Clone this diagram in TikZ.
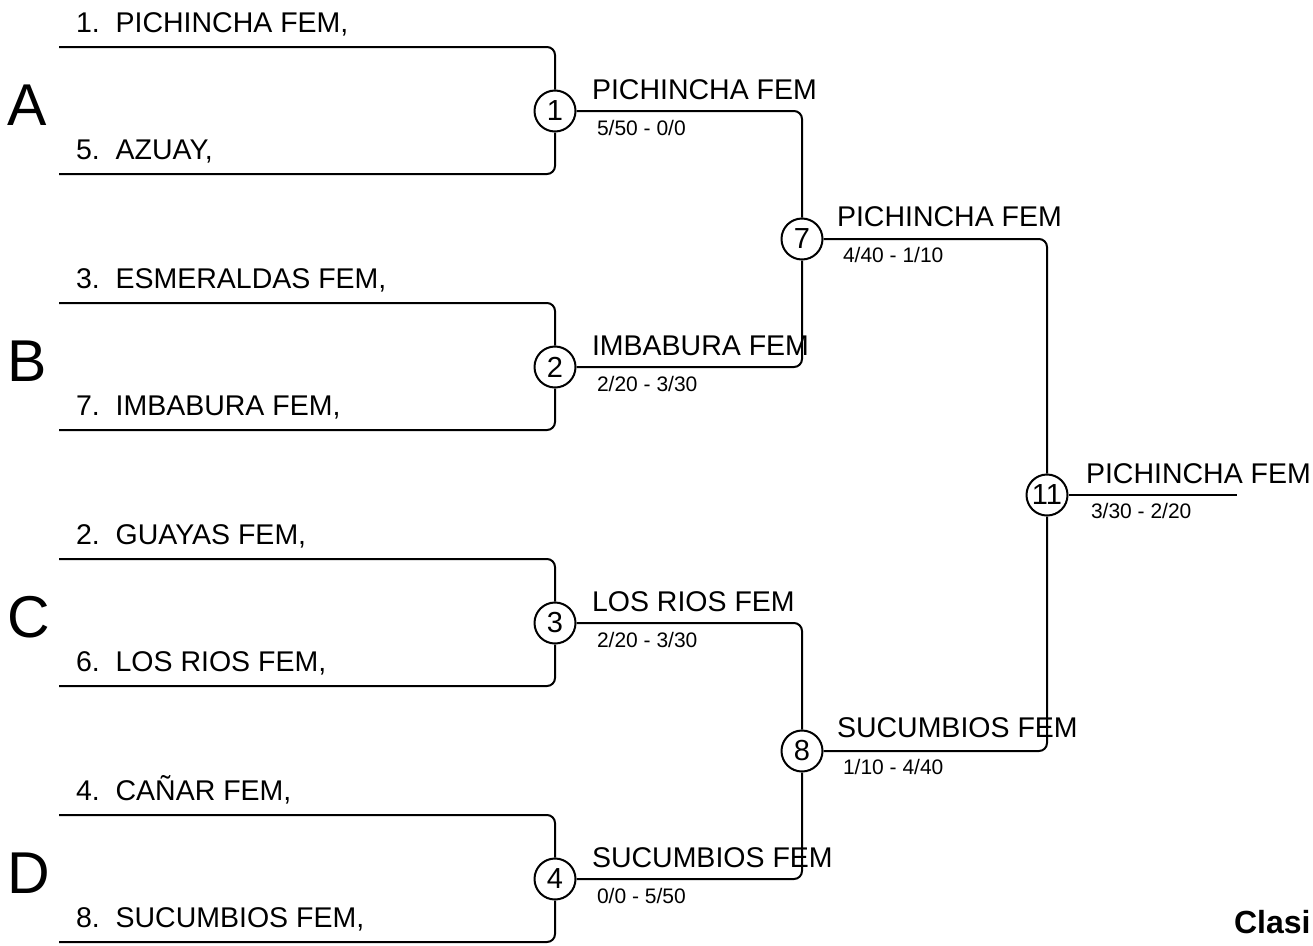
\documentclass[tikz,border=0pt]{standalone}
\usepackage{fontspec}
\setmainfont{Liberation Sans}

\begin{document}
\begin{tikzpicture}[
    x=1pt, y=-1pt,
    line width=2pt,
    game/.style={draw,circle,fill=white,minimum size=41pt,inner sep=0pt,font=\fontsize{29}{29}\selectfont},
    team/.style={anchor=base west,inner sep=0pt,font=\fontsize{28.5}{28.5}\selectfont},
    winner/.style={anchor=base west,inner sep=0pt,font=\fontsize{28.5}{28.5}\selectfont},
    score/.style={anchor=base west,inner sep=0pt,font=\fontsize{21}{21}\selectfont},
    group/.style={anchor=base west,inner sep=0pt,font=\fontsize{59}{59}\selectfont},
    title/.style={anchor=base west,inner sep=0pt,font=\fontsize{32}{32}\selectfont\bfseries},
    link/.style={draw,rounded corners=8pt}]
  \useasboundingbox (0,0) rectangle (1313,945);
  \node[group] (grpa) at (7,125) {A};
  \node[group] (grpb) at (7,381) {B};
  \node[group] (grpc) at (7,637) {C};
  \node[group] (grpd) at (7,893) {D};
  \node[team] (pich) at (75,32) {1.\ \ PICHINCHA FEM,};
  \node[team] (azua) at (75,159) {5.\ \ AZUAY,};
  \node[team] (esme) at (75,288) {3.\ \ ESMERALDAS FEM,};
  \node[team] (imba) at (75,415) {7.\ \ IMBABURA FEM,};
  \node[team] (guay) at (75,544) {2.\ \ GUAYAS FEM,};
  \node[team] (losr) at (75,671) {6.\ \ LOS RIOS FEM,};
  \node[team] (cana) at (75,800) {4.\ \ CAÑAR FEM,};
  \node[team] (sucu) at (75,927) {8.\ \ SUCUMBIOS FEM,};
  \coordinate (t1) at (59,47);
  \coordinate (t5) at (59,174);
  \coordinate (t3) at (59,303);
  \coordinate (t7) at (59,430);
  \coordinate (t2) at (59,559);
  \coordinate (t6) at (59,686);
  \coordinate (t4) at (59,815);
  \coordinate (t8) at (59,942);
  \node[game] (g1) at (555,111) {1};
  \node[game] (g2) at (555,367) {2};
  \node[game] (g3) at (555,623) {3};
  \node[game] (g4) at (555,879) {4};
  \node[game] (g7) at (802,239) {7};
  \node[game] (g8) at (802,751) {8};
  \node[game] (g11) at (1047,495) {11};
  \coordinate (champ) at (1237,495);
  \draw[link] (t1) -| (g1);
  \draw[link] (t5) -| (g1);
  \draw[link] (t3) -| (g2);
  \draw[link] (t7) -| (g2);
  \draw[link] (t2) -| (g3);
  \draw[link] (t6) -| (g3);
  \draw[link] (t4) -| (g4);
  \draw[link] (t8) -| (g4);
  \draw[link] (g1) -| (g7);
  \draw[link] (g2) -| (g7);
  \draw[link] (g3) -| (g8);
  \draw[link] (g4) -| (g8);
  \draw[link] (g7) -| (g11);
  \draw[link] (g8) -| (g11);
  \draw (g11) -- (champ);
  \node[winner] (w1) at (591,99) {PICHINCHA FEM};
  \node[score] (s1) at (596,135) {5/50 - 0/0};
  \node[winner] (w2) at (591,355) {IMBABURA FEM};
  \node[score] (s2) at (596,391) {2/20 - 3/30};
  \node[winner] (w3) at (591,611) {LOS RIOS FEM};
  \node[score] (s3) at (596,647) {2/20 - 3/30};
  \node[winner] (w4) at (591,867) {SUCUMBIOS FEM};
  \node[score] (s4) at (596,903) {0/0 - 5/50};
  \node[winner] (w7) at (836,226) {PICHINCHA FEM};
  \node[score] (s7) at (842,262) {4/40 - 1/10};
  \node[winner] (w8) at (836,737) {SUCUMBIOS FEM};
  \node[score] (s8) at (842,774) {1/10 - 4/40};
  \node[winner] (w11) at (1085,483) {PICHINCHA FEM};
  \node[score] (s11) at (1090,518) {3/30 - 2/20};
  \node[title] (clas) at (1233,933) {Clasi};
\end{tikzpicture}
\end{document}
